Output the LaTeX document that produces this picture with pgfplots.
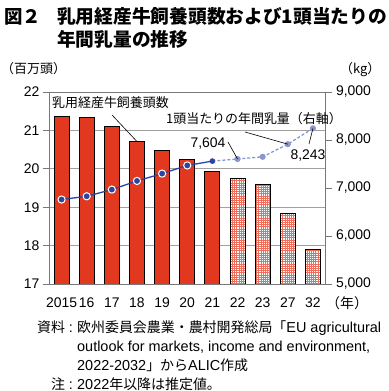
\documentclass[border=0pt]{standalone}
\usepackage{pgfplots}
\pgfplotsset{compat=1.18}
\usepackage{fontspec}
\setmainfont{Liberation Sans}
\newfontfamily\cjk{Noto Sans CJK JP}
\usetikzlibrary{patterns}
\definecolor{barred}{RGB}{226,56,32}
\definecolor{hatchred}{RGB}{236,110,92}
\definecolor{lineblue}{RGB}{42,68,160}
\definecolor{dashblue}{RGB}{140,150,205}
\definecolor{gridgray}{RGB}{160,160,160}
\definecolor{axisgray}{RGB}{120,120,120}
\pgfdeclarepatternformonly{mygrid}{\pgfqpoint{-0.5pt}{-0.5pt}}{\pgfqpoint{2.7pt}{2.7pt}}{\pgfqpoint{2.2pt}{2.2pt}}{%
  \pgfsetlinewidth{0.5pt}%
  \pgfpathmoveto{\pgfqpoint{0pt}{-0.1pt}}\pgfpathlineto{\pgfqpoint{0pt}{2.3pt}}%
  \pgfpathmoveto{\pgfqpoint{-0.1pt}{0pt}}\pgfpathlineto{\pgfqpoint{2.3pt}{0pt}}%
  \pgfusepath{stroke}}
\newcommand{\tf}{\fontsize{14}{14}\selectfont}
\newcommand{\nf}{\fontsize{14}{14}\selectfont}
\newcommand{\srcl}{\fontsize{14.5}{14.5}\selectfont}
\newcommand{\srcc}{\cjk\fontsize{14}{14}\selectfont}
\begin{document}
\begin{tikzpicture}[x=1bp,y=1bp]
\useasboundingbox (0,0) rectangle (389,391);
\begin{axis}[
  at={(49bp,107bp)}, anchor=south west,
  scale only axis, width=276.5bp, height=192bp,
  xmin=-0.5, xmax=10.5, ymin=17, ymax=22,
  axis line style={axisgray, line width=0.8bp},
  tick style={axisgray, line width=0.8bp},
  tick align=outside,
  major tick length=6bp,
  ytick={17,18,...,22},
  ytick pos=left,
  ymajorgrids,
  grid style={gridgray, line width=0.8bp},
  xtick={0,...,10},
  xticklabels={2015,16,17,18,19,20,21,22,23,27,32},
  xtick pos=bottom,
  major x tick style={draw=none},
  extra x ticks={-0.5,0.5,...,10.5},
  extra x tick labels={},
  extra x tick style={grid=none, major tick length=4bp, tick style={axisgray, line width=0.8bp}},
  /pgf/number format/assume math mode=true,
  ticklabel style={font=\tf},
  xticklabel style={yshift=-4bp},
  yticklabel style={xshift=0bp},
  clip=true,
]
\addplot[ybar, bar width=15bp, bar shift=0pt, fill=barred, draw=black, line width=0.8bp]
  coordinates {(0,21.37)(1,21.34)(2,21.11)(3,20.71)(4,20.47)(5,20.24)(6,19.94)};
\addplot[ybar, bar width=15bp, bar shift=0pt, draw=black, line width=0.8bp, fill=white,
  postaction={pattern=mygrid, pattern color=hatchred}]
  coordinates {(7,19.75)(8,19.59)(9,18.83)(10,17.89)};
\coordinate (b18) at (axis cs:3,20.71);
\end{axis}
\begin{axis}[
  at={(49bp,107bp)}, anchor=south west,
  scale only axis, width=276.5bp, height=192bp,
  xmin=-0.5, xmax=10.5, ymin=5000, ymax=9000,
  axis y line*=right, axis x line=none,
  axis line style={axisgray, line width=0.8bp},
  tick style={axisgray, line width=0.8bp},
  tick align=outside,
  major tick length=6bp,
  ytick={5000,6000,...,9000},
  scaled y ticks=false,
  /pgf/number format/.cd, 1000 sep={,}, assume math mode=true,
  /pgfplots/.cd,
  ticklabel style={font=\tf},
  yticklabel style={xshift=1bp},
  clip=false,
]
\addplot[dashblue, line width=1.3bp, dash pattern=on 3bp off 2bp, mark=*, mark size=2.4bp,
  mark options={solid, fill=dashblue, draw=dashblue}, mark indices={2,3,4,5}]
  coordinates {(6,7560)(7,7604)(8,7650)(9,7913)(10,8243)};
\addplot[lineblue, line width=1.3bp, mark=*, mark size=3.6bp,
  mark options={fill=lineblue, draw=white, line width=1bp}, mark indices={1,2,3,4,5,6}]
  coordinates {(0,6760)(1,6827)(2,6967)(3,7147)(4,7300)(5,7470)(6,7560)};
\addplot[only marks, mark=*, mark size=2.6bp, mark options={fill=lineblue, draw=lineblue}]
  coordinates {(6,7560)};
\coordinate (p22) at (axis cs:7,7604);
\coordinate (p27) at (axis cs:9,7913);
\coordinate (p32) at (axis cs:10,8243);
\end{axis}
% title
\node[anchor=base west, inner sep=0] at (4,368) {\cjk\bfseries\fontsize{18.5}{18.5}\selectfont 図２};
\node[anchor=base west, inner sep=0] at (57,368) {\cjk\bfseries\fontsize{18.8}{18.8}\selectfont 乳用経産牛飼養頭数および1頭当たりの};
\node[anchor=base west, inner sep=0] at (57,345) {\cjk\bfseries\fontsize{18.8}{18.8}\selectfont 年間乳量の推移};
% units
\node[anchor=base west, inner sep=0] at (1,318) {\cjk\fontsize{13}{13}\selectfont （百万頭）};
\node[anchor=base west, inner sep=0] at (340,318) {\cjk\fontsize{13}{13}\selectfont （kg）};
\node[anchor=base west, inner sep=0] at (326,83) {\cjk\fontsize{14}{14}\selectfont （年）};
% annotations
\node[anchor=west, inner sep=0] at (52,288) {\cjk\fontsize{13}{13}\selectfont 乳用経産牛飼養頭数};
\draw[black, line width=0.6bp] (112,276) -- (b18);
\node[anchor=west, inner sep=0] at (166,272) {\cjk\fontsize{13}{13}\selectfont 1頭当たりの年間乳量（右軸）};
\draw[black, line width=0.6bp] (245,259) -- (p27);
\node[inner sep=0] at (208,247) {\nf 7,604};
\draw[black, line width=0.6bp] (228,249) -- (p22);
\node[inner sep=0] at (308,235) {\nf 8,243};
\draw[black, line width=0.6bp] (309,247) -- (p32);
% source
\node[anchor=base west, inner sep=0] at (37,58.5) {\srcc 資料};
\node[anchor=base, inner sep=0] at (71,58.5) {\srcl :};
\node[anchor=base west, inner sep=0] at (77,58.5) {{\srcc 欧州委員会農業・農村開発総局「}\srcl EU agricultural};
\node[anchor=base west, inner sep=0] at (77,39.5) {\srcl outlook for markets, income and environment,};
\node[anchor=base west, inner sep=0] at (77,20.5) {\srcl 2022-2032{\srcc 」から}ALIC{\srcc 作成}};
\node[anchor=base west, inner sep=0] at (51,1.5) {\srcc 注};
\node[anchor=base, inner sep=0] at (71,1.5) {\srcl :};
\node[anchor=base west, inner sep=0] at (77,1.5) {\srcl 2022{\srcc 年以降は推定値。}};
\end{tikzpicture}
\end{document}
